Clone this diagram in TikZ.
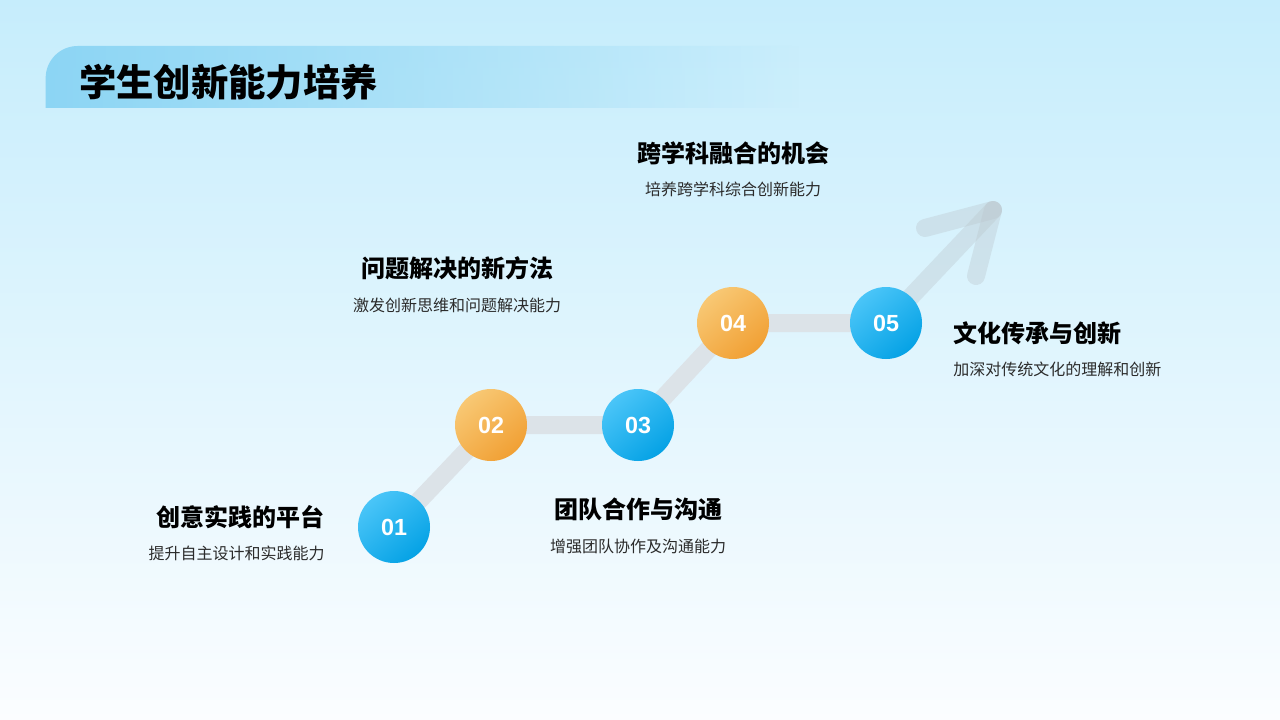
\documentclass[tikz,border=0pt]{standalone}
\usepackage{fontspec}
\setmainfont{Noto Sans CJK SC}
\newfontfamily\numfont{Liberation Sans}
\usetikzlibrary{backgrounds,fadings}
\definecolor{bgtop}{HTML}{C6EDFC}
\definecolor{bgbot}{HTML}{FBFDFF}
\definecolor{bandc}{HTML}{8CD5F4}
\definecolor{bluel}{HTML}{4AC5F8}
\definecolor{blued}{HTML}{05A2E5}
\definecolor{orl}{HTML}{F8C874}
\definecolor{ord}{HTML}{F1A034}
\definecolor{trackc}{HTML}{DCE3E8}
\definecolor{arrowc}{HTML}{BCC7CE}
\definecolor{subc}{HTML}{2B2B2B}
\tikzset{
  stepbase/.style={circle, minimum size=54pt, inner sep=0pt, text=white,
    font=\numfont\bfseries\fontsize{17.5}{17.5}\selectfont},
  bluestep/.style={stepbase, top color=bluel, bottom color=blued, shading angle=40},
  orstep/.style={stepbase, top color=orl, bottom color=ord, shading angle=40},
  heading/.style={font=\bfseries\fontsize{18}{20}\selectfont, text=black, inner sep=0pt},
  subtext/.style={font=\fontsize{12}{14}\selectfont, text=subc, inner sep=0pt},
  track/.style={draw=trackc, line width=13.5pt},
  arrowpart/.style={draw=arrowc, line width=13.5pt, line cap=round, opacity=0.38},
}
\begin{document}
\begin{tikzpicture}[x=0.75pt,y=-0.75pt]
\useasboundingbox (0,0) rectangle (1280,720);
% steps
\node[bluestep] (s1) at (394,527) {01};
\node[orstep]   (s2) at (491,425) {02};
\node[bluestep] (s3) at (638,425) {03};
\node[orstep]   (s4) at (733,323) {04};
\node[bluestep] (s5) at (886,323) {05};
\coordinate (ah) at (993,210);
\coordinate (al) at (925,228);
\coordinate (ar) at (976,276);
\begin{pgfonlayer}{background}
  \fill[top color=bgtop, bottom color=bgbot] (0,0) rectangle (1280,720);
  \fill[bandc, path fading=east] (46,108) [rounded corners=24pt] -- (46,46) [sharp corners] -- (800,46) -- (800,108) -- cycle;
  \draw[track] (s1.center) -- (s2.center) -- (s3.center) -- (s4.center) -- (s5.center);
  \draw[arrowpart] (s5.center) -- (ah);
  \draw[arrowpart] (ah) -- (al);
  \draw[arrowpart] (ah) -- (ar);
\end{pgfonlayer}
% title
\node[anchor=west, inner sep=0pt, font=\bfseries\fontsize{28}{30}\selectfont] (title) at (79,82) {学生创新能力培养};
% texts
\node[heading] (h4) at (733,153) {跨学科融合的机会};
\node[subtext] (d4) at (733,189) {培养跨学科综合创新能力};
\node[heading] (h2) at (457,268) {问题解决的新方法};
\node[subtext] (d2) at (457,305) {激发创新思维和问题解决能力};
\node[heading, anchor=west] (h5) at (953,333) {文化传承与创新};
\node[subtext, anchor=west] (d5) at (953,369) {加深对传统文化的理解和创新};
\node[heading] (h3) at (638,509) {团队合作与沟通};
\node[subtext] (d3) at (638,546) {增强团队协作及沟通能力};
\node[heading, anchor=east] (h1) at (325,517) {创意实践的平台};
\node[subtext, anchor=east] (d1) at (325,553) {提升自主设计和实践能力};
\end{tikzpicture}
\end{document}
